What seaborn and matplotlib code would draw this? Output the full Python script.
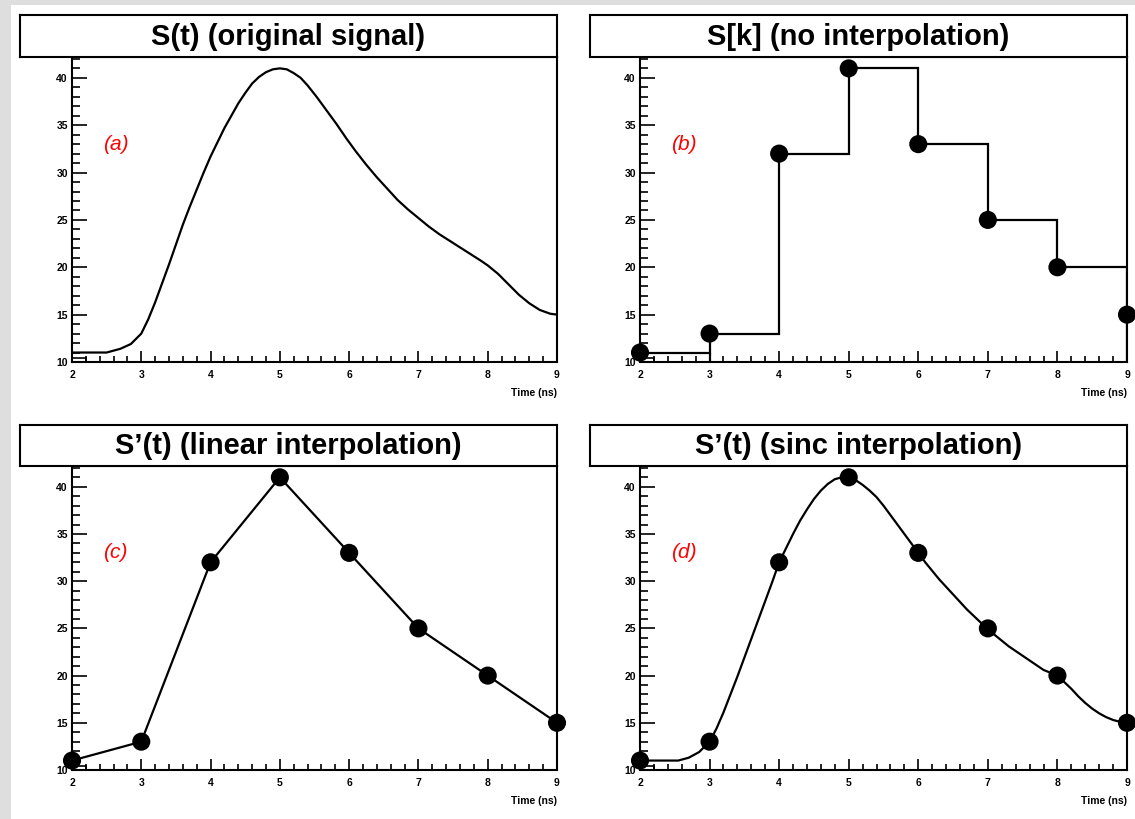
import matplotlib
matplotlib.use("Agg")
import matplotlib.pyplot as plt
from matplotlib.patches import Rectangle
from matplotlib.ticker import MultipleLocator
import seaborn as sns
import pandas as pd

# samples taken every ns
sample_t = [2, 3, 4, 5, 6, 7, 8, 9]
sample_s = [11, 13, 32, 41, 33, 25, 20, 15]

# original signal
orig_t = [2.0, 2.5, 2.6, 2.7, 2.85, 3.0, 3.1, 3.2, 3.3, 3.4, 3.5, 3.6, 3.7, 3.8, 3.9,
          4.0, 4.1, 4.2, 4.3, 4.4, 4.5, 4.6, 4.7, 4.8, 4.9, 5.0, 5.1, 5.2, 5.3, 5.4,
          5.53, 5.67, 5.82, 5.96, 6.1, 6.25, 6.4, 6.55, 6.7, 6.85, 7.0, 7.15, 7.3,
          7.45, 7.6, 7.75, 7.9, 8.0, 8.15, 8.3, 8.45, 8.6, 8.75, 8.9, 9.0]
orig_s = [11.0, 11.0, 11.2, 11.4, 11.9, 13.0, 14.5, 16.3, 18.3, 20.3, 22.4, 24.5, 26.4,
          28.2, 30.0, 31.7, 33.2, 34.7, 36.0, 37.3, 38.4, 39.4, 40.1, 40.6, 40.9, 41.0,
          40.9, 40.5, 40.0, 39.2, 38.0, 36.6, 35.1, 33.6, 32.2, 30.8, 29.5, 28.3, 27.1,
          26.1, 25.2, 24.3, 23.5, 22.8, 22.1, 21.4, 20.7, 20.2, 19.3, 18.2, 17.1, 16.2,
          15.5, 15.1, 15.0]

# sinc reconstruction
sinc_t = [2.0, 2.3, 2.55, 2.7, 2.85, 3.0, 3.1, 3.2, 3.3, 3.4, 3.5, 3.6, 3.7, 3.8, 3.9,
          4.0, 4.1, 4.2, 4.3, 4.4, 4.5, 4.6, 4.7, 4.8, 4.9, 5.0, 5.1, 5.2, 5.3, 5.4,
          5.5, 5.6, 5.7, 5.8, 5.9, 6.0, 6.1, 6.2, 6.3, 6.4, 6.5, 6.6, 6.7, 6.8, 6.9,
          7.0, 7.1, 7.2, 7.3, 7.4, 7.5, 7.6, 7.7, 7.8, 7.9, 8.0, 8.1, 8.2, 8.3, 8.4,
          8.5, 8.6, 8.7, 8.8, 8.9, 9.0]
sinc_s = [11.0, 11.0, 11.0, 11.3, 11.9, 13.0, 14.4, 16.1, 18.0, 19.9, 21.9, 23.9, 25.9,
          27.9, 29.9, 32.0, 33.5, 35.0, 36.4, 37.6, 38.7, 39.6, 40.3, 40.8, 41.0, 41.0,
          40.7, 40.2, 39.6, 38.9, 38.0, 37.0, 36.0, 35.0, 34.0, 33.0, 32.0, 31.1, 30.2,
          29.4, 28.6, 27.8, 27.0, 26.3, 25.6, 25.0, 24.3, 23.7, 23.1, 22.6, 22.1, 21.6,
          21.1, 20.6, 20.3, 20.0, 19.3, 18.6, 17.8, 17.1, 16.5, 16.0, 15.6, 15.3, 15.1,
          15.0]

titles = ["S(t) (original signal)", "S[k] (no interpolation)",
          "S\u2019(t) (linear interpolation)", "S\u2019(t) (sinc interpolation)"]
tags = ["(a)", "(b)", "(c)", "(d)"]

sns.set_theme(style="ticks")
plt.rcParams["font.family"] = ["Liberation Sans", "DejaVu Sans"]
plt.rcParams["text.color"] = "black"
plt.rcParams["xtick.color"] = "black"
plt.rcParams["ytick.color"] = "black"

W, H = 1135, 819
fig = plt.figure(figsize=(W / 100, H / 100), dpi=100, facecolor="white")

# grey canvas strips on the left and top
fig.add_artist(Rectangle((0, 0), 11 / W, 1, transform=fig.transFigure,
                         facecolor="#dedede", edgecolor="none", zorder=0))
fig.add_artist(Rectangle((0, 1 - 5 / H), 1, 5 / H, transform=fig.transFigure,
                         facecolor="#dedede", edgecolor="none", zorder=0))


def px_rect(x0, y0, x1, y1):
    return [x0 / W, 1 - y1 / H, (x1 - x0) / W, (y1 - y0) / H]


# pixel boxes: (axes left, axes right, axes top, axes bottom, title box left, title top)
boxes = [(72, 557, 57, 362, 20, 15), (640, 1127, 57, 362, 590, 15),
         (72, 557, 466, 770, 20, 425), (640, 1127, 466, 770, 590, 425)]

samples = pd.DataFrame({"t": sample_t, "s": sample_s})
orig = pd.DataFrame({"t": orig_t, "s": orig_s})
sinc = pd.DataFrame({"t": sinc_t, "s": sinc_s})

for i, (l, r, t, b, tl, tt) in enumerate(boxes):
    ax = fig.add_axes(px_rect(l, t, r, b))
    ax.set_facecolor("white")

    if i == 0:
        sns.lineplot(data=orig, x="t", y="s", ax=ax, color="black", lw=1.6, sort=False)
    elif i == 1:
        ax.stairs(sample_s[:-1], sample_t, baseline=10, color="black", lw=1.6)
        ax.vlines(sample_t[1], 10, sample_s[0], color="black", lw=1.6)
    elif i == 2:
        sns.lineplot(data=samples, x="t", y="s", ax=ax, color="black", lw=1.6)
    else:
        sns.lineplot(data=sinc, x="t", y="s", ax=ax, color="black", lw=1.6, sort=False)

    if i > 0:
        sns.scatterplot(data=samples, x="t", y="s", ax=ax, color="black", s=170,
                        edgecolor="none", zorder=5, clip_on=False)

    # little stray box ROOT leaves at the origin
    ax.add_patch(Rectangle((2, 10), 0.2, 0.45, fill=False, edgecolor="black", lw=1.2))

    ax.set_xlim(2, 9)
    ax.set_ylim(10, 42.2)
    ax.xaxis.set_major_locator(MultipleLocator(1))
    ax.xaxis.set_minor_locator(MultipleLocator(0.2))
    ax.yaxis.set_major_locator(MultipleLocator(5))
    ax.yaxis.set_minor_locator(MultipleLocator(1))
    ax.tick_params(which="both", direction="in", width=1.2, colors="black",
                   labelsize=7.5, top=False, right=False)
    ax.tick_params(axis="x", which="major", length=8, pad=6)
    ax.tick_params(axis="x", which="minor", length=4)
    ax.tick_params(axis="y", which="major", length=11, pad=3)
    ax.tick_params(axis="y", which="minor", length=6)
    for lab in ax.get_xticklabels() + ax.get_yticklabels():
        lab.set_fontweight("bold")
    for side in ["top", "bottom", "left", "right"]:
        ax.spines[side].set_color("black")
        ax.spines[side].set_linewidth(1.5)
    ax.set_xlabel("")
    ax.set_ylabel("")
    ax.text(1.0, -0.085, "Time (ns)", transform=ax.transAxes, ha="right", va="top",
            fontsize=7.5, fontweight="bold")
    ax.text(2.63, 33, tags[i], color="red", fontsize=15, style="italic",
            ha="center", va="center")

    # title box
    tax = fig.add_axes(px_rect(tl, tt, r, t))
    tax.set_xticks([])
    tax.set_yticks([])
    tax.set_facecolor("white")
    for side in tax.spines.values():
        side.set_color("black")
        side.set_linewidth(1.5)
    tax.text(0.5, 0.48, titles[i], transform=tax.transAxes, ha="center", va="center",
             fontsize=21, fontweight="bold", color="black")

fig.savefig("out.png", dpi=100, facecolor="white")
